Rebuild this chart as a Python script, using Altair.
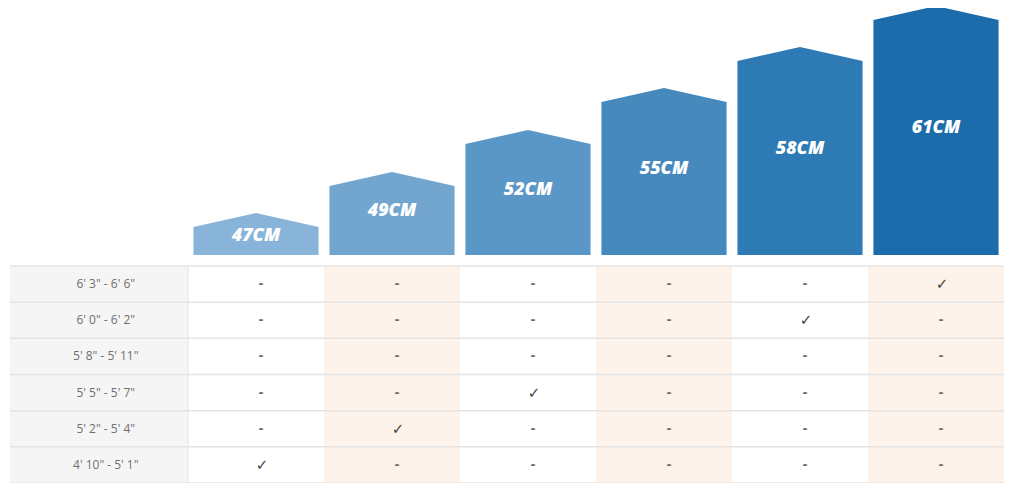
import altair as alt
import pandas as pd

# ---- data ----
sizes = ["47CM", "49CM", "52CM", "55CM", "58CM", "61CM"]
bar_heights = [28, 69, 111, 153, 194, 235]          # visual height of each frame-size "house"
bar_colors = ["#87b4d8", "#72a6cf", "#5b97c6", "#4689bd", "#2e7ab4", "#1c6cab"]
height_ranges = ['6\' 3" - 6\' 6"', '6\' 0" - 6\' 2"', '5\' 8" - 5\' 11"',
                 '5\' 5" - 5\' 7"', '5\' 2" - 5\' 4"', '4\' 10" - 5\' 1"']
fit_column = [5, 4, -1, 2, 1, 0]                    # index of the size that fits each height (-1 = none)

# ---- tables built from the lists ----
ROOF = 14
HALF = 0.46
house_rows = []
for i, (s, h) in enumerate(zip(sizes, bar_heights)):
    house_rows += [
        {"size": s, "col": i, "x": i - HALF, "y": h},
        {"size": s, "col": i, "x": i, "y": h + ROOF},
        {"size": s, "col": i, "x": i + HALF, "y": h},
    ]
houses = pd.DataFrame(house_rows)
labels = pd.DataFrame({"size": sizes, "col": list(range(len(sizes))), "h": bar_heights})

cells = pd.DataFrame([
    {"row": r, "col": c, "mark": "\u2713" if fit_column[r] == c else "-"}
    for r in range(len(height_ranges)) for c in range(len(sizes))
])
rowhdr = pd.DataFrame({"row": list(range(len(height_ranges))), "label": height_ranges})
cols = pd.DataFrame({"col": list(range(len(sizes)))})
lines = pd.DataFrame({"k": list(range(len(height_ranges) + 1))})

TOP = -11
RH = 36.17
LEFT = -1.809

xs = alt.Scale(domain=[-1.82353, 5.58088], nice=False, zero=False)
ys = alt.Scale(domain=[-228, 247], nice=False, zero=False)

# column backgrounds (alternate peach)
colbg = alt.Chart(cols).transform_filter("datum.col % 2 == 1").transform_calculate(
    x1="datum.col - 0.5", x2="datum.col + 0.5", y1=f"{TOP}", y2=f"{TOP - RH * 6}"
).mark_rect(color="#fdf3eb").encode(
    x=alt.X("x1:Q", scale=xs, axis=None), x2="x2:Q",
    y=alt.Y("y1:Q", scale=ys, axis=None), y2="y2:Q")

hdrbg = alt.Chart(lines).transform_filter("datum.k == 0").transform_calculate(
    x1=f"{LEFT}", x2="-0.5", y1=f"{TOP}", y2=f"{TOP - RH * 6}"
).mark_rect(color="#f5f5f5").encode(
    x=alt.X("x1:Q", scale=xs, axis=None), x2="x2:Q",
    y=alt.Y("y1:Q", scale=ys, axis=None), y2="y2:Q")

hlines = alt.Chart(lines).transform_calculate(
    x1=f"{LEFT}", x2="5.5", yy=f"{TOP} - {RH} * datum.k"
).mark_rule(color="#e4e4e4", strokeWidth=1.5).encode(
    x=alt.X("x1:Q", scale=xs, axis=None), x2="x2:Q",
    y=alt.Y("yy:Q", scale=ys, axis=None))

vline = alt.Chart(lines).transform_filter("datum.k == 0").transform_calculate(
    xx="-0.5", y1=f"{TOP}", y2=f"{TOP - RH * 6}"
).mark_rule(color="#e4e4e4", strokeWidth=1).encode(
    x=alt.X("xx:Q", scale=xs, axis=None),
    y=alt.Y("y1:Q", scale=ys, axis=None), y2="y2:Q")

hdrtext = alt.Chart(rowhdr).transform_calculate(
    xx=f"({LEFT} - 0.5) / 2 + 0.05", yy=f"{TOP} - {RH} * (datum.row + 0.5)"
).mark_text(font="Open Sans", fontSize=12, color="#6f6f6f", baseline="middle").encode(
    x=alt.X("xx:Q", scale=xs, axis=None), y=alt.Y("yy:Q", scale=ys, axis=None),
    text="label:N")

dashes = alt.Chart(cells).transform_filter("datum.mark == '-'").transform_calculate(
    yy=f"{TOP} - {RH} * (datum.row + 0.5)"
).mark_text(font="Open Sans", fontSize=14, fontWeight="bold", color="#6a6a6a",
            baseline="middle", dx=5).encode(
    x=alt.X("col:Q", scale=xs, axis=None), y=alt.Y("yy:Q", scale=ys, axis=None),
    text="mark:N")

checks = alt.Chart(cells).transform_filter("datum.mark != '-'").transform_calculate(
    yy=f"{TOP} - {RH} * (datum.row + 0.5)"
).mark_text(font="DejaVu Sans", fontSize=15, color="#444444", baseline="middle", dx=6).encode(
    x=alt.X("col:Q", scale=xs, axis=None), y=alt.Y("yy:Q", scale=ys, axis=None),
    text="mark:N")

house = alt.Chart(houses).mark_area(interpolate="linear").encode(
    x=alt.X("x:Q", scale=xs, axis=None),
    y=alt.Y("y:Q", scale=ys, axis=None),
    y2=alt.datum(0),
    color=alt.Color("size:N", scale=alt.Scale(domain=sizes, range=bar_colors), legend=None),
    detail="size:N")

labtext = alt.Chart(labels).transform_calculate(
    yy=f"min(datum.h - 9, (datum.h + {ROOF}) / 2 + 2.5)"
).mark_text(font="Open Sans", fontSize=18, fontWeight=800, fontStyle="italic",
            color="white", baseline="middle").encode(
    x=alt.X("col:Q", scale=xs, axis=None), y=alt.Y("yy:Q", scale=ys, axis=None),
    text="size:N")

chart = alt.layer(colbg, hdrbg, hlines, vline, hdrtext, dashes, checks, house, labtext).properties(
    width=1007, height=475, padding=0, autosize=alt.AutoSizeParams(type="none")
).configure_view(stroke=None)

chart.save("out.html", embed_options={"renderer": "svg", "actions": False})
